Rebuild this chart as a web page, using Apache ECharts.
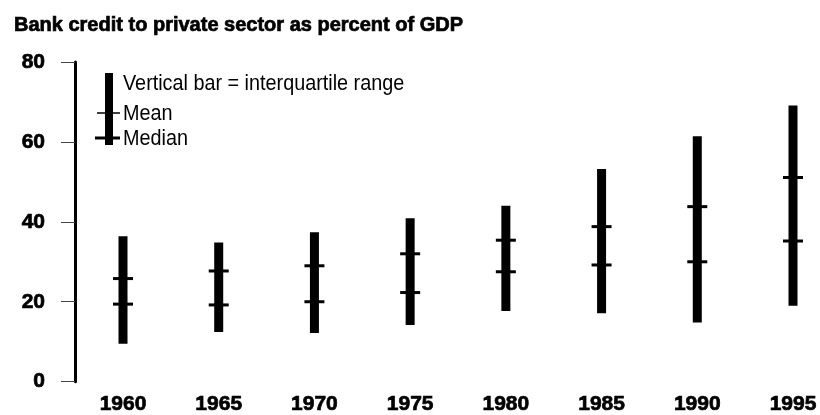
<!DOCTYPE html>
<html>
<head>
<meta charset="utf-8">
<script src="https://cdn.jsdelivr.net/npm/echarts@6/dist/echarts.min.js"></script>
<style>
  html, body { margin: 0; padding: 0; background: #fff; }
  #chart { width: 820px; height: 415px; }
</style>
</head>
<body>
<div id="chart"></div>
<script>
const years = ["1960", "1965", "1970", "1975", "1980", "1985", "1990", "1995"];
// interquartile range, bottom and top
const q1 = [9.5, 12.4, 12.2, 14.2, 17.7, 17.1, 14.8, 19.0];
const q3 = [36.4, 34.8, 37.4, 40.9, 44.0, 53.2, 61.4, 69.1];
const means = [25.8, 27.7, 29.0, 32.0, 35.4, 38.8, 43.8, 51.1];
const medians = [19.4, 19.2, 20.0, 22.3, 27.5, 29.2, 30.0, 35.2];
const yTicks = [0, 20, 40, 60, 80];

const font = "'Liberation Sans', Arial, sans-serif";

const chart = echarts.init(document.getElementById("chart"));

const rows = years.map((y, i) => [i, q1[i], q3[i], means[i], medians[i]]);

const boldLabel = {
  fontFamily: font,
  fontWeight: "bold",
  fontSize: 21,
  color: "#000",
  textBorderColor: "#000",
  textBorderWidth: 0.7,
};

// legend text is a bit condensed in the original
const legendText = (y, text) => ({
  type: "text",
  x: 123,
  y: y,
  scaleX: 0.9,
  style: { x: 0, y: 0, text: text, font: "22px " + font, fill: "#000", verticalAlign: "middle" },
});

const option = {
  animation: false,
  title: {
    text: "Bank credit to private sector as percent of GDP",
    left: 9,
    top: 10,
    textStyle: {
      fontFamily: font, fontWeight: "bold", fontSize: 20, color: "#000",
      textBorderColor: "#000", textBorderWidth: 0.7,
    },
  },
  grid: { left: 123, right: 27, top: 62, bottom: 31 },
  xAxis: {
    type: "category",
    data: years,
    boundaryGap: false,
    axisLine: { show: false },
    axisTick: { show: false },
    axisLabel: Object.assign({ margin: 12 }, boldLabel),
  },
  yAxis: {
    type: "value",
    min: 0,
    max: 80,
    interval: 20,
    offset: 48,
    splitLine: { show: false },
    axisLine: { show: true, lineStyle: { color: "#000", width: 3 } },
    axisTick: { show: true, length: 14, lineStyle: { color: "#444", width: 1 } },
    axisLabel: Object.assign({
      margin: 30,
      formatter: (v) => (yTicks.includes(v) ? String(v) : ""),
    }, boldLabel),
  },
  series: [
    {
      type: "custom",
      data: rows,
      renderItem: (params, api) => {
        const x = api.value(0);
        const lo = api.coord([x, api.value(1)]);
        const hi = api.coord([x, api.value(2)]);
        const mn = api.coord([x, api.value(3)]);
        const md = api.coord([x, api.value(4)]);
        return {
          type: "group",
          children: [
            {
              type: "rect",
              shape: { x: lo[0] - 4.5, y: hi[1], width: 9, height: lo[1] - hi[1] },
              style: { fill: "#000" },
            },
            {
              type: "line",
              shape: { x1: mn[0] - 10, y1: mn[1], x2: mn[0] + 10, y2: mn[1] },
              style: { stroke: "#000", lineWidth: 3 },
            },
            {
              type: "line",
              shape: { x1: md[0] - 10, y1: md[1], x2: md[0] + 10, y2: md[1] },
              style: { stroke: "#000", lineWidth: 3 },
            },
          ],
        };
      },
    },
  ],
  graphic: [
    { type: "rect", shape: { x: 105, y: 73, width: 8, height: 72 }, style: { fill: "#000" } },
    { type: "line", shape: { x1: 97, y1: 113, x2: 120, y2: 113 }, style: { stroke: "#000", lineWidth: 1.5 } },
    { type: "line", shape: { x1: 95, y1: 138, x2: 120, y2: 138 }, style: { stroke: "#000", lineWidth: 3 } },
    legendText(84, "Vertical bar = interquartile range"),
    legendText(114, "Mean"),
    legendText(139, "Median"),
  ],
};

chart.setOption(option);
</script>
</body>
</html>
